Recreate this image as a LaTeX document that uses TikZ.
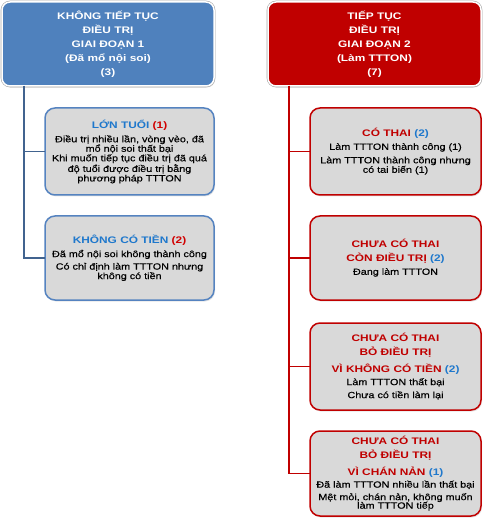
\documentclass[tikz,border=0pt]{standalone}
\usepackage{fontspec}
\setmainfont{Liberation Sans}
\newfontfamily\tfnt[FakeStretch=1.25]{Liberation Sans}
\newfontfamily\bfnt[FakeStretch=1.2,FakeBold=0.4]{Liberation Sans}
\usetikzlibrary{shadows}
\definecolor{blueF}{HTML}{4F81BD}
\definecolor{redF}{HTML}{C00000}
\definecolor{grayF}{HTML}{D9D9D9}
\definecolor{blueL}{HTML}{41638F}
\definecolor{blueB}{HTML}{5583C0}
\definecolor{tblue}{HTML}{1F78CC}
\definecolor{tred}{HTML}{D00000}
\newcommand\ttl[1]{{\tfnt\bfseries\fontsize{9.5}{9.5}\selectfont #1}}
\tikzset{
  topbox/.style={rounded corners=8pt, minimum width=212pt, minimum height=84pt,
    anchor=north west, inner sep=0pt, outer sep=0pt,
    drop shadow={shadow xshift=1pt, shadow yshift=-1.5pt, opacity=0.25},
    preaction={draw=black!35, line width=2.6pt},
    draw=white, line width=1.5pt, text=white, align=center,
    font=\tfnt\bfseries\fontsize{9.5}{14}\selectfont},
  childbox/.style={rounded corners=10pt, minimum width=#1, anchor=north west,
    inner sep=0pt, outer sep=0pt, fill=grayF, line width=1.5pt, align=center,
    drop shadow={shadow xshift=1pt, shadow yshift=-1.5pt, opacity=0.2},
    font=\bfnt\fontsize{9}{9.5}\selectfont},
  lchild/.style={childbox=169pt, draw=blueB},
  rchild/.style={childbox=171pt, draw=redF},
  lconn/.style={draw=blueL, line width=1.8pt},
  rconn/.style={draw=redF, line width=1.8pt},
}
\begin{document}
\begin{tikzpicture}[x=1pt,y=-1pt]
\useasboundingbox (0,0) rectangle (483,518);
% top boxes
\node[topbox, fill=blueF] (tl) at (2,2) {KHÔNG TIẾP TỤC\\ĐIỀU TRỊ\\GIAI ĐOẠN 1\\(Đã mổ nội soi)\\(3)};
\node[topbox, fill=redF, minimum width=213pt] (tr) at (268,2) {TIẾP TỤC\\ĐIỀU TRỊ\\GIAI ĐOẠN 2\\(Làm TTTON)\\(7)};
% left children
\node[lchild, minimum height=87pt] (l1) at (45,108) {\ttl{\textcolor{tblue}{LỚN TUỔI} \textcolor{tred}{(1)}}\\[4.5pt]
Điều trị nhiều lần, vòng vèo, đã\\mổ nội soi thất bại\\Khi muốn tiếp tục điều trị đã quá\\độ tuổi được điều trị bằng\\phương pháp TTTON};
\node[lchild, minimum height=84pt] (l2) at (45,216) {\ttl{\textcolor{tblue}{KHÔNG CÓ TIỀN} \textcolor{tred}{(2)}}\\[4pt]
Đã mổ nội soi không thành công\\[3pt]Có chỉ định làm TTTON nhưng\\không có tiền};
% right children
\node[rchild, minimum height=87pt] (r1) at (310,108) {\ttl{\textcolor{redF}{CÓ THAI} \textcolor{tblue}{(2)}}\\[3.5pt]
Làm TTTON thành công (1)\\[4pt]Làm TTTON thành công nhưng\\có tai biến (1)};
\node[rchild, minimum height=84pt] (r2) at (310,216) {\ttl{\textcolor{redF}{CHƯA CÓ THAI}}\\[4.5pt]\ttl{\textcolor{redF}{CÒN ĐIỀU TRỊ} \textcolor{tblue}{(2)}}\\[3.5pt]
Đang làm TTTON};
\node[rchild, minimum height=87pt] (r3) at (310,323) {\ttl{\textcolor{redF}{CHƯA CÓ THAI}}\\[4.5pt]\ttl{\textcolor{redF}{BỎ ĐIỀU TRỊ}}\\[5pt]\ttl{\textcolor{redF}{VÌ KHÔNG CÓ TIỀN} \textcolor{tblue}{(2)}}\\[3.5pt]
Làm TTTON thất bại\\[3.5pt]Chưa có tiền làm lại};
\node[rchild, minimum height=85pt] (r4) at (310,431) {\ttl{\textcolor{redF}{CHƯA CÓ THAI}}\\[4.5pt]\ttl{\textcolor{redF}{BỎ ĐIỀU TRỊ}}\\[5pt]\ttl{\textcolor{redF}{VÌ CHÁN NẢN} \textcolor{tblue}{(1)}}\\[3pt]
Đã làm TTTON nhiều lần thất bại\\[3pt]Mệt mỏi, chán nản, không muốn\\[-1pt]làm TTTON tiếp};
% connectors
\coordinate (lx) at (24,0);
\coordinate (rx) at (289,0);
\draw[lconn] (tl.south -| lx) |- (l1.west);
\draw[lconn] (tl.south -| lx) |- (l2.west);
\draw[rconn] (tr.south -| rx) |- (r1.west);
\draw[rconn] (tr.south -| rx) |- (r2.west);
\draw[rconn] (tr.south -| rx) |- (r3.west);
\draw[rconn] (tr.south -| rx) |- (r4.west);
\end{tikzpicture}
\end{document}
